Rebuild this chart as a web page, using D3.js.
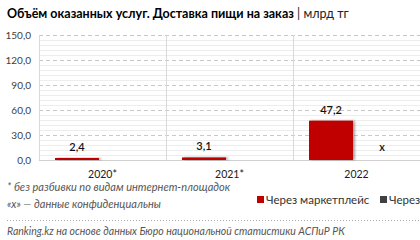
<!DOCTYPE html>
<html><head><meta charset="utf-8">
<script src="https://cdn.jsdelivr.net/npm/d3@7"></script>
<style>
html,body{margin:0;padding:0;background:#fff;}
svg{display:block;font-family:Lato, "Open Sans", sans-serif;}
</style></head>
<body>
<svg id="c" width="420" height="240"></svg>
<script>
const categories = ["2020*", "2021*", "2022"];
const seriesNames = ["Через маркетплейс", "Через"];
const marketplace = [2.4, 3.1, 47.2];
const ownSite = [null, null, null];
const ownSiteLabels = ["", "", "x"];
const yTicks = [0, 30, 60, 90, 120, 150];
const colors = ["#c00000", "#404040"];

(function(){
const svg = d3.select("#c");
const defs = svg.append("defs");
const f = defs.append("filter").attr("id","sh").attr("x","-20%").attr("y","-20%").attr("width","150%").attr("height","140%");
f.append("feDropShadow").attr("dx",2).attr("dy",0).attr("stdDeviation",1.3).attr("flood-color","#000").attr("flood-opacity",0.35);

const pl = 39, pr = 420, pt = 35, pb = 160;
const y = d3.scaleLinear().domain([0,150]).range([pb, pt]);
const x0 = d3.scaleBand().domain(categories).range([pl, pr]).padding(0);
const x1 = d3.scaleBand().domain([0,1]).range([0, x0.bandwidth()]).paddingInner(0.137).paddingOuter(0.314);

const fmt = v => d3.format(".1f")(v).replace(".", ",");

// minor gridlines
const minor = d3.range(0, 151, 6).filter(v => v % 30 !== 0);
svg.append("g").selectAll("line").data(minor).join("line")
  .attr("x1", pl).attr("x2", pr).attr("y1", d => Math.round(y(d))+0.5).attr("y2", d => Math.round(y(d))+0.5)
  .attr("stroke", "#ededed").attr("stroke-width", 1);
// major dashed gridlines
svg.append("g").selectAll("line").data(yTicks.filter(v => v > 0)).join("line")
  .attr("x1", pl).attr("x2", pr).attr("y1", d => Math.round(y(d))+0.5).attr("y2", d => Math.round(y(d))+0.5)
  .attr("stroke", "#c8c8c8").attr("stroke-width", 1).attr("stroke-dasharray", "4,3");
// category separators
svg.append("g").selectAll("line").data(categories).join("line")
  .attr("x1", d => Math.round(x0(d))+0.5).attr("x2", d => Math.round(x0(d))+0.5)
  .attr("y1", pt).attr("y2", pb)
  .attr("stroke", "#d9d9d9").attr("stroke-width", 1);
// baseline
svg.append("line").attr("x1", pl).attr("x2", pr).attr("y1", pb+0.5).attr("y2", pb+0.5)
  .attr("stroke", "#d0d0d0");

// y axis labels
const yAxis = d3.axisLeft(y).tickValues(yTicks).tickFormat(fmt).tickSize(0).tickPadding(8);
const ga = svg.append("g").attr("transform", `translate(${pl},0)`).call(yAxis);
ga.select(".domain").remove();
ga.selectAll("text").attr("font-size", 10).attr("fill", "#404040").attr("font-family","Lato, sans-serif");

// x axis labels
const xAxis = d3.axisBottom(x0).tickSize(0).tickPadding(11);
const gx = svg.append("g").attr("transform", `translate(0,${pb})`).call(xAxis);
gx.select(".domain").remove();
gx.selectAll("text").attr("font-size", 10.5).attr("fill", "#202020").attr("font-family","Lato, sans-serif");

// bars
const bars = svg.append("g");
categories.forEach((c, i) => {
  const v = marketplace[i];
  const bx = x0(c) + x1(0);
  bars.append("rect").attr("x", bx).attr("y", y(v)).attr("width", x1.bandwidth())
    .attr("height", y(0) - y(v)).attr("fill", colors[0]).attr("filter", "url(#sh)");
  bars.append("text").attr("x", bx + x1.bandwidth()/2).attr("y", y(v) - 7)
    .attr("text-anchor", "middle").attr("font-size", 11).attr("font-weight", 600).attr("fill", "#111")
    .text(fmt(v));
  const v2 = ownSite[i];
  const bx2 = x0(c) + x1(1);
  if (v2 != null) {
    bars.append("rect").attr("x", bx2).attr("y", y(v2)).attr("width", x1.bandwidth())
      .attr("height", y(0) - y(v2)).attr("fill", colors[1]);
  }
  if (ownSiteLabels[i]) {
    bars.append("text").attr("x", bx2 + x1.bandwidth()/2).attr("y", y(v2 || 0) - 9)
      .attr("text-anchor", "middle").attr("font-size", 11).attr("font-weight", 600).attr("fill", "#111")
      .text(ownSiteLabels[i]);
  }
});

// title
const t = svg.append("text").attr("x", 7).attr("y", 18).attr("font-size", 12.5).attr("fill", "#000");
t.append("tspan").attr("font-weight", 700).text("Объём оказанных услуг. Доставка пищи на заказ");
t.append("tspan").attr("font-weight", 400).attr("fill","#222").text(" | млрд тг");

// footnotes
svg.append("text").attr("x", 7).attr("y", 191).attr("font-size", 11).attr("font-style", "italic").attr("fill", "#555")
  .text("* без разбивки по видам интернет-площадок");
svg.append("text").attr("x", 7).attr("y", 208).attr("font-size", 11).attr("font-style", "italic").attr("fill", "#555")
  .text("«х» — данные конфиденциальны");

// legend
const legX = [257, 380];
seriesNames.forEach((s, i) => {
  svg.append("rect").attr("x", legX[i]).attr("y", 196).attr("width", 7).attr("height", 7).attr("fill", colors[i]);
  svg.append("text").attr("x", legX[i] + 9).attr("y", 204).attr("font-size", 11.5).attr("fill", "#333").text(s);
});

// dotted separator
svg.append("line").attr("x1", 7).attr("x2", 420).attr("y1", 220.5).attr("y2", 220.5)
  .attr("stroke", "#aaa").attr("stroke-dasharray", "1,2");

// source
svg.append("text").attr("x", 7).attr("y", 235).attr("font-size", 10.5).attr("font-style", "italic").attr("fill", "#555")
  .text("Ranking.kz на основе данных Бюро национальной статистики АСПиР РК");
})();
</script>
</body></html>
